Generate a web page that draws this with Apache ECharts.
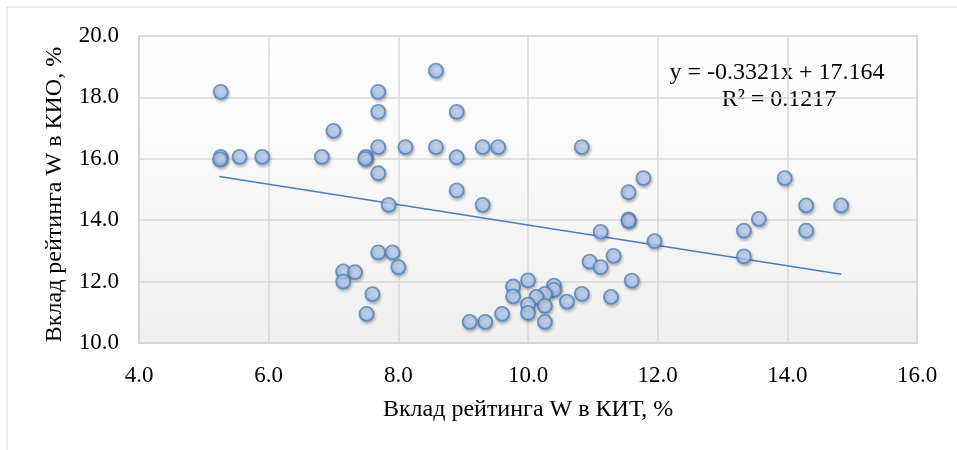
<!DOCTYPE html>
<html>
<head>
<meta charset="utf-8">
<script src="https://cdn.jsdelivr.net/npm/echarts@6/dist/echarts.min.js"></script>
<style>
  html, body { margin: 0; padding: 0; background: #fff; }
  #main { width: 957px; height: 450px; }
</style>
</head>
<body>
<div id="main"></div>
<script>
// вклад рейтинга W в КИТ (x) и в КИО (y), %
var kitValues = [5.26, 5.26, 5.25, 5.55, 5.9, 6.82, 7.0, 7.5, 7.49, 7.69, 7.69, 7.69, 7.69, 7.85, 8.11,
    8.58, 8.58, 8.9, 8.9, 8.9, 9.3, 9.3, 9.54, 10.83, 11.78, 11.55, 11.55, 11.55, 11.12, 11.95,
    10.95, 11.12, 11.32, 11.6, 11.28, 10.83, 10.6, 10.4, 10.4, 10.26, 10.13, 10.26, 10.26,
    10.0, 10.0, 10.0, 9.77, 9.77, 9.6, 9.34, 9.1, 7.69, 7.91, 8.0, 7.15, 7.33, 7.15, 7.6, 7.51,
    13.96, 14.29, 14.83, 14.29, 13.56, 13.33, 13.33];
var kioValues = [18.18, 16.06, 15.98, 16.06, 16.06, 16.06, 16.91, 16.06, 16.0, 16.38, 15.53, 18.18, 17.53, 14.5, 16.38,
    18.87, 16.38, 17.53, 16.05, 14.97, 14.5, 16.38, 16.38, 16.38, 15.37, 14.91, 14.03, 13.98, 13.62, 13.32,
    12.65, 12.47, 12.84, 12.03, 11.5, 11.6, 11.35, 11.87, 11.73, 11.6, 11.5, 11.21, 10.69,
    12.04, 11.25, 10.98, 11.84, 11.52, 10.95, 10.69, 10.69, 12.95, 12.95, 12.47, 12.33, 12.31, 12.0, 11.59, 10.95,
    15.37, 14.48, 14.48, 13.66, 14.04, 13.66, 12.82];

// линия тренда (как подписана на рисунке)
var trendSlope = -0.3321;
var trendIntercept = 17.164;
var trendRange = [5.24, 14.83];
var trendLabels = ['y = -0.3321x + 17.164', 'R² = 0.1217'];

var xAxisName = 'Вклад рейтинга W в КИТ, %';
var yAxisName = 'Вклад рейтинга W в КИО, %';

var points = [];
for (var i = 0; i < kitValues.length; i++) {
    points.push([kitValues[i], kioValues[i]]);
}
var trendData = trendRange.map(function (x) {
    return [x, trendSlope * x + trendIntercept];
});

var myChart = echarts.init(document.getElementById('main'));
var fontFamily = '"Liberation Serif", "Times New Roman", serif';

var option = {
    animation: false,
    grid: {
        left: 139,
        top: 36,
        right: 40,
        bottom: 107,
        show: true,
        borderColor: '#d4d4d4',
        borderWidth: 1.5,
        backgroundColor: new echarts.graphic.LinearGradient(0, 0, 0, 1, [
            { offset: 0, color: '#ffffff' },
            { offset: 1, color: '#efefef' }
        ])
    },
    xAxis: {
        type: 'value',
        min: 4,
        max: 16,
        interval: 2,
        name: xAxisName,
        nameLocation: 'middle',
        nameGap: 55,
        nameTextStyle: { fontFamily: fontFamily, fontSize: 24, color: '#000' },
        axisLine: { show: true, lineStyle: { color: '#d4d4d4', width: 1.5 } },
        axisTick: { show: false },
        axisLabel: {
            margin: 21,
            fontFamily: fontFamily,
            fontSize: 23,
            color: '#000',
            formatter: function (v) { return v.toFixed(1); }
        },
        splitLine: { lineStyle: { color: '#d9d9d9', width: 1.5 } }
    },
    yAxis: {
        type: 'value',
        min: 10,
        max: 20,
        interval: 2,
        name: yAxisName,
        nameLocation: 'middle',
        nameGap: 72,
        nameTextStyle: { fontFamily: fontFamily, fontSize: 24, color: '#000', padding: [0, 10, 0, 0] },
        axisLine: { show: true, lineStyle: { color: '#d4d4d4', width: 1.5 } },
        axisTick: { show: false },
        axisLabel: {
            margin: 20,
            fontFamily: fontFamily,
            fontSize: 23,
            color: '#000',
            formatter: function (v) { return v.toFixed(1); }
        },
        splitLine: { lineStyle: { color: '#d9d9d9', width: 1.5 } }
    },
    graphic: [
        {
            type: 'rect',
            shape: { x: 7, y: 7, width: 1000, height: 500 },
            style: { fill: 'none', stroke: '#d9d9d9', lineWidth: 1 },
            silent: true
        },
        {
            type: 'text',
            x: 777,
            y: 61,
            style: { text: trendLabels[0], font: '24px ' + fontFamily, fill: '#000', align: 'center' }
        },
        {
            type: 'text',
            x: 779,
            y: 88,
            style: { text: trendLabels[1], font: '24px ' + fontFamily, fill: '#000', align: 'center' }
        }
    ],
    series: [
        {
            type: 'line',
            data: trendData,
            symbol: 'none',
            lineStyle: { color: '#4a7ebb', width: 1.5 },
            z: 3
        },
        {
            type: 'scatter',
            data: points,
            symbol: 'circle',
            symbolSize: 14,
            itemStyle: {
                color: new echarts.graphic.LinearGradient(0, 0, 0, 1, [
                    { offset: 0, color: '#dfeafc' },
                    { offset: 1, color: '#98bcf0' }
                ]),
                borderColor: '#4f81bd',
                borderWidth: 1.8,
                shadowColor: 'rgba(0,0,0,0.3)',
                shadowBlur: 3,
                shadowOffsetX: 1,
                shadowOffsetY: 2
            },
            z: 4
        }
    ]
};
myChart.setOption(option);
</script>
</body>
</html>
